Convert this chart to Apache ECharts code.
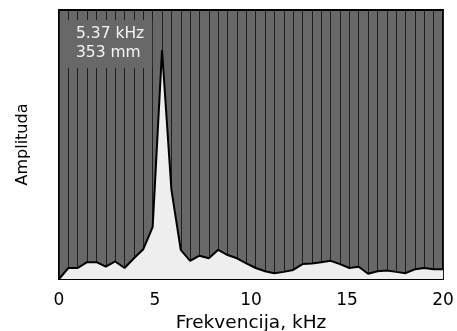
<!DOCTYPE html>
<html>
<head>
<meta charset="utf-8">
<script src="https://cdn.jsdelivr.net/npm/echarts@6/dist/echarts.min.js"></script>
<style>
  html, body { margin: 0; padding: 0; background: #fff; }
  #chart { width: 457px; height: 331px; }
</style>
</head>
<body>
<div id="chart"></div>
<script>
// frekvencije (kHz), 42 točke od 0 do 20
const freqs = [0, 0.49, 0.98, 1.46, 1.95, 2.44, 2.93, 3.41, 3.90, 4.39, 4.88, 5.37, 5.85, 6.34,
  6.83, 7.32, 7.80, 8.29, 8.78, 9.27, 9.76, 10.24, 10.73, 11.22, 11.71, 12.20, 12.68, 13.17,
  13.66, 14.15, 14.63, 15.12, 15.61, 16.10, 16.59, 17.07, 17.56, 18.05, 18.54, 19.02, 19.51, 20]
// amplituda
const amps = [0, 17, 17, 26, 26, 19, 27, 17, 32, 46, 80, 353, 138, 45,
  28, 36, 32, 45, 37, 32, 24, 17, 12, 9, 11, 14, 23, 24,
  26, 28, 23, 17, 19, 8, 12, 13, 11, 9, 15, 17, 15, 15]
const xTicks = [0, 5, 10, 15, 20]

const peakIdx = amps.indexOf(Math.max(...amps))
const font = "DejaVu Sans"

const myChart = echarts.init(document.getElementById("chart"))

const option = {
  animation: false,
  title: {
    text: freqs[peakIdx].toFixed(2) + " kHz\n" + amps[peakIdx] + " mm",
    left: 68,
    top: 20,
    padding: [4, 8, 6, 8],
    backgroundColor: "#686868",
    textStyle: {
      color: "#f4f4f4",
      fontFamily: font,
      fontSize: 15.5,
      fontWeight: "normal",
      lineHeight: 19
    }
  },
  grid: {
    left: 59,
    right: 14,
    top: 10,
    bottom: 52,
    outerBoundsMode: "none",
    containLabel: false,
    show: true,
    backgroundColor: "#686868",
    borderColor: "#000",
    borderWidth: 2
  },
  xAxis: [
    {
      type: "category",
      data: freqs,
      boundaryGap: false,
      axisLine: { show: false },
      axisTick: { show: false },
      axisLabel: { show: false },
      splitLine: {
        show: true,
        interval: 0,
        lineStyle: { color: "#1e1e1e", width: 1 }
      }
    },
    {
      type: "value",
      position: "bottom",
      min: xTicks[0],
      max: xTicks[xTicks.length - 1],
      interval: 5,
      name: "Frekvencija, kHz",
      nameLocation: "middle",
      nameGap: 31,
      nameTextStyle: { color: "#000", fontFamily: font, fontSize: 18.5 },
      axisLine: { show: true, lineStyle: { color: "#000", width: 2 } },
      axisTick: { show: false },
      axisLabel: { color: "#000", fontFamily: font, fontSize: 17, margin: 13 },
      splitLine: { show: false }
    }
  ],
  yAxis: {
    type: "value",
    min: 0,
    max: 415,
    name: "Amplituda",
    nameLocation: "middle",
    nameGap: 28,
    nameTextStyle: { color: "#000", fontFamily: font, fontSize: 16 },
    axisLine: { show: false },
    axisTick: { show: false },
    axisLabel: { show: false },
    splitLine: { show: false }
  },
  series: [
    {
      type: "line",
      xAxisIndex: 0,
      data: amps,
      showSymbol: false,
      lineStyle: { color: "#000", width: 2 },
      areaStyle: { color: "#eeeeee", opacity: 1 }
    }
  ]
}
myChart.setOption(option, true)
</script>
</body>
</html>
